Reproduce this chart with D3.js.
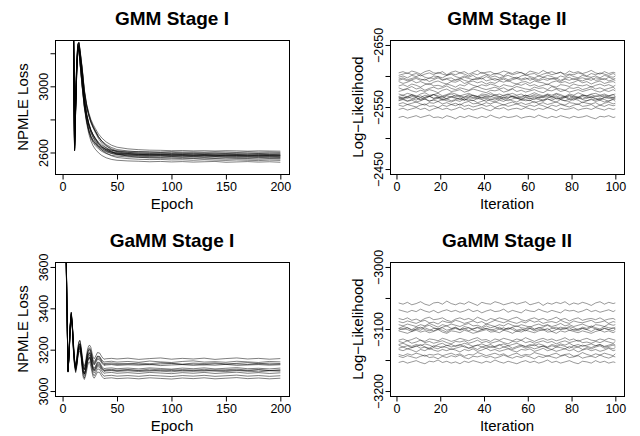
<!DOCTYPE html>
<html><head><meta charset="utf-8">
<script src="https://cdn.jsdelivr.net/npm/d3@7"></script>
<style>body{margin:0;background:#fff}svg{display:block}</style>
</head><body><svg id="c" width="640" height="436"></svg>
<script>
// ---------- data ----------
const titles = ["GMM Stage I", "GMM Stage II", "GaMM Stage I", "GaMM Stage II"];
const xLabels = ["Epoch", "Iteration", "Epoch", "Iteration"];
const yLabelsAxis = ["NPMLE Loss", "Log−Likelihood", "NPMLE Loss", "Log−Likelihood"];

const stage1XTicks = [0, 50, 100, 150, 200];
const stage2XTicks = [0, 20, 40, 60, 80, 100];
const gmm1YTicks = [2600, 2800, 3000, 3200];
const gmm1YTickLabels = ["2600", "", "3000", ""];
const gmm2YTicks = [-2650, -2600, -2550, -2500, -2450];
const gmm2YTickLabels = ["−2650", "", "−2550", "", "−2450"];
const gamm1YTicks = [3000, 3200, 3400, 3600];
const gamm1YTickLabels = ["3000", "3200", "3400", "3600"];
const gamm2YTicks = [-3000, -3050, -3100, -3150, -3200];
const gamm2YTickLabels = ["−3000", "", "−3100", "", "−3200"];

const gmm1Epochs = [1,9,10,11,12,13,14,15,16,18,20,22,24,26,28,30,33,36,40,45,50,60,70,80,90,100,110,120,130,140,150,160,170,180,190,200];
const gmm1Runs = [
[6100,4300,3350,2615,2860,3090,3215,3230,3150, 3000,2870,2780,2715,2670,2640,2620, 2598,2582,2568,2558,2553, 2549,2547,2544,2546,2543,2545,2542,2544,2546,2541,2543,2545,2542,2544,2541],
[6000,4250,3380,2625,2880,3110,3230,3245,3185, 3055,2915,2825,2765,2722,2690,2666, 2636,2615,2596,2580,2570, 2563,2559,2557,2558,2555,2556,2553,2556,2554,2552,2555,2553,2551,2554,2552],
[6200,4350,3400,2640,2910,3140,3250,3262,3212, 3100,2965,2880,2825,2782,2750,2722, 2684,2656,2628,2605,2590, 2578,2571,2567,2565,2566,2563,2564,2561,2563,2560,2562,2561,2559,2562,2560],
[5900,4200,3330,2610,2850,3080,3205,3225,3140, 2995,2875,2790,2728,2686,2660,2642, 2622,2607,2594,2583,2578, 2573,2571,2569,2570,2567,2569,2566,2568,2565,2567,2566,2564,2567,2565,2564],
[6050,4280,3360,2620,2875,3105,3228,3240,3180, 3050,2910,2822,2762,2722,2694,2672, 2645,2626,2608,2594,2586, 2580,2577,2575,2574,2576,2573,2574,2571,2573,2572,2570,2572,2569,2571,2570],
[6150,4320,3390,2630,2890,3120,3238,3250,3195, 3065,2930,2840,2780,2738,2708,2684, 2655,2634,2615,2600,2591, 2585,2581,2579,2580,2577,2578,2575,2577,2576,2574,2576,2573,2575,2574,2572],
[5950,4220,3340,2612,2855,3085,3210,3228,3145, 3005,2882,2798,2735,2694,2668,2650, 2630,2615,2603,2594,2589, 2585,2583,2581,2582,2579,2580,2578,2580,2577,2579,2578,2576,2578,2577,2575],
[6250,4380,3410,2645,2920,3150,3255,3265,3220, 3108,2975,2892,2835,2792,2760,2734, 2696,2668,2640,2618,2604, 2594,2589,2586,2585,2586,2583,2584,2582,2583,2580,2582,2581,2579,2581,2580],
[6080,4300,3370,2622,2882,3112,3232,3244,3188, 3058,2920,2832,2772,2732,2704,2680, 2652,2633,2616,2603,2595, 2590,2587,2585,2586,2583,2584,2582,2584,2581,2583,2582,2580,2583,2581,2580],
[5980,4240,3345,2614,2858,3088,3212,3230,3148, 3010,2886,2802,2740,2700,2674,2656, 2636,2622,2610,2601,2596, 2591,2589,2587,2588,2585,2587,2584,2586,2585,2583,2586,2584,2582,2585,2583],
[6120,4310,3385,2628,2886,3116,3235,3247,3192, 3062,2926,2836,2776,2736,2708,2685, 2657,2638,2620,2607,2599, 2594,2591,2589,2590,2587,2588,2586,2588,2585,2587,2586,2584,2587,2585,2584],
[6220,4360,3405,2642,2915,3145,3252,3263,3215, 3104,2970,2886,2830,2788,2756,2730, 2694,2668,2642,2622,2610, 2601,2596,2594,2592,2593,2591,2592,2589,2591,2590,2588,2590,2589,2587,2589],
[6020,4270,3365,2624,2878,3108,3230,3242,3184, 3054,2918,2830,2772,2734,2708,2688, 2662,2644,2628,2614,2606, 2600,2598,2596,2597,2594,2595,2593,2595,2592,2594,2593,2591,2594,2592,2591],
[6180,4340,3395,2638,2905,3135,3248,3258,3208, 3096,2960,2876,2822,2782,2752,2728, 2694,2670,2648,2630,2618, 2609,2604,2601,2600,2601,2598,2599,2597,2598,2596,2598,2597,2595,2597,2596],
[5920,4210,3335,2611,2852,3082,3208,3226,3142, 3002,2880,2796,2734,2696,2672,2656, 2640,2630,2620,2613,2609, 2607,2606,2605,2603,2605,2603,2604,2602,2604,2603,2601,2604,2602,2603,2601],
[6280,4400,3420,2650,2925,3155,3258,3268,3225, 3112,2980,2896,2842,2800,2770,2746, 2712,2688,2664,2644,2632, 2622,2617,2614,2613,2611,2612,2610,2611,2609,2611,2610,2608,2610,2609,2608]
];

const stage2Iters = [1,3,5,7,9,11,13,15,17,19,21,23,25,27,29,31,33,35,37,39,41,43,45,47,49,51,53,55,57,59,61,63,65,67,69,71,73,75,77,79,81,83,85,87,89,91,93,95,97,99,100];
const gmm2Runs = [
[-2605,-2607,-2604,-2608,-2606,-2603,-2607,-2609,-2605,-2604,-2607,-2602,-2606,-2608,-2605,-2607,-2603,-2606,-2609,-2604,-2606,-2607,-2603,-2605,-2608,-2606,-2604,-2607,-2605,-2603,-2608,-2606,-2604,-2609,-2605,-2607,-2604,-2606,-2603,-2608,-2605,-2607,-2604,-2606,-2609,-2605,-2603,-2607,-2604,-2606,-2605],
[-2601,-2603,-2605,-2602,-2604,-2600,-2603,-2605,-2602,-2606,-2603,-2601,-2604,-2602,-2605,-2603,-2600,-2604,-2602,-2606,-2603,-2601,-2604,-2603,-2600,-2605,-2602,-2604,-2606,-2601,-2603,-2604,-2600,-2603,-2605,-2602,-2604,-2606,-2601,-2603,-2602,-2605,-2603,-2600,-2604,-2602,-2605,-2603,-2601,-2604,-2602],
[-2598,-2600,-2597,-2601,-2599,-2602,-2598,-2596,-2600,-2599,-2597,-2601,-2603,-2599,-2597,-2600,-2598,-2601,-2596,-2599,-2602,-2598,-2600,-2597,-2599,-2601,-2598,-2596,-2600,-2602,-2599,-2597,-2600,-2598,-2601,-2599,-2596,-2600,-2598,-2602,-2599,-2597,-2601,-2599,-2598,-2600,-2597,-2601,-2599,-2598,-2600],
[-2595,-2597,-2594,-2596,-2598,-2595,-2593,-2597,-2596,-2599,-2594,-2596,-2597,-2593,-2595,-2598,-2596,-2594,-2597,-2595,-2599,-2596,-2593,-2595,-2597,-2594,-2596,-2598,-2595,-2597,-2593,-2596,-2594,-2598,-2596,-2595,-2597,-2593,-2596,-2598,-2594,-2596,-2597,-2595,-2593,-2597,-2596,-2594,-2598,-2595,-2596],
[-2593,-2595,-2592,-2594,-2596,-2593,-2595,-2591,-2594,-2597,-2593,-2595,-2592,-2594,-2596,-2593,-2591,-2595,-2594,-2597,-2592,-2594,-2596,-2593,-2595,-2591,-2594,-2596,-2593,-2595,-2597,-2594,-2592,-2595,-2593,-2596,-2594,-2591,-2595,-2593,-2596,-2594,-2592,-2595,-2597,-2593,-2594,-2596,-2592,-2594,-2593],
[-2591,-2588,-2590,-2593,-2589,-2591,-2588,-2586,-2590,-2592,-2589,-2587,-2591,-2590,-2593,-2588,-2590,-2592,-2589,-2591,-2587,-2590,-2588,-2592,-2590,-2593,-2589,-2587,-2590,-2591,-2588,-2592,-2590,-2589,-2586,-2590,-2592,-2589,-2591,-2588,-2590,-2593,-2589,-2591,-2587,-2590,-2592,-2588,-2590,-2591,-2589],
[-2584,-2586,-2583,-2587,-2585,-2582,-2586,-2588,-2584,-2585,-2583,-2587,-2585,-2582,-2586,-2584,-2588,-2585,-2583,-2586,-2584,-2587,-2585,-2582,-2586,-2584,-2583,-2587,-2585,-2588,-2584,-2586,-2583,-2585,-2587,-2584,-2582,-2586,-2585,-2583,-2587,-2585,-2584,-2586,-2582,-2585,-2587,-2584,-2586,-2583,-2585],
[-2581,-2578,-2580,-2583,-2579,-2581,-2577,-2580,-2582,-2579,-2581,-2584,-2580,-2578,-2581,-2579,-2577,-2581,-2583,-2580,-2578,-2580,-2582,-2579,-2581,-2577,-2580,-2583,-2581,-2579,-2578,-2582,-2580,-2581,-2578,-2583,-2580,-2579,-2577,-2581,-2580,-2582,-2578,-2580,-2583,-2579,-2581,-2578,-2580,-2582,-2579],
[-2575,-2577,-2579,-2576,-2574,-2577,-2575,-2578,-2576,-2573,-2577,-2579,-2575,-2576,-2578,-2574,-2576,-2579,-2577,-2575,-2573,-2577,-2576,-2578,-2574,-2576,-2579,-2575,-2577,-2574,-2576,-2578,-2575,-2573,-2577,-2576,-2579,-2575,-2577,-2574,-2576,-2578,-2575,-2577,-2579,-2576,-2574,-2577,-2575,-2578,-2576],
[-2571,-2569,-2572,-2570,-2567,-2571,-2573,-2569,-2570,-2572,-2568,-2570,-2573,-2571,-2568,-2570,-2572,-2569,-2567,-2571,-2570,-2573,-2569,-2571,-2568,-2570,-2572,-2569,-2571,-2567,-2570,-2573,-2570,-2568,-2571,-2569,-2572,-2570,-2567,-2571,-2569,-2573,-2570,-2568,-2571,-2572,-2569,-2571,-2568,-2570,-2571],
[-2567,-2569,-2566,-2570,-2568,-2565,-2569,-2567,-2570,-2568,-2566,-2569,-2571,-2567,-2568,-2566,-2570,-2568,-2565,-2569,-2567,-2570,-2568,-2566,-2569,-2571,-2567,-2568,-2565,-2569,-2567,-2570,-2568,-2566,-2569,-2567,-2571,-2568,-2566,-2569,-2567,-2565,-2569,-2568,-2570,-2567,-2569,-2566,-2568,-2570,-2567],
[-2566,-2564,-2567,-2569,-2566,-2568,-2565,-2567,-2570,-2566,-2564,-2568,-2566,-2569,-2567,-2564,-2566,-2569,-2567,-2565,-2568,-2566,-2570,-2567,-2565,-2568,-2566,-2564,-2567,-2569,-2566,-2568,-2565,-2567,-2570,-2566,-2568,-2565,-2567,-2564,-2568,-2566,-2569,-2567,-2565,-2568,-2566,-2569,-2567,-2565,-2567],
[-2563,-2566,-2564,-2567,-2565,-2562,-2566,-2568,-2564,-2565,-2567,-2563,-2566,-2564,-2562,-2566,-2568,-2565,-2563,-2566,-2564,-2567,-2565,-2562,-2566,-2564,-2568,-2565,-2563,-2566,-2564,-2562,-2566,-2565,-2567,-2564,-2566,-2563,-2565,-2568,-2564,-2566,-2563,-2565,-2567,-2564,-2562,-2566,-2565,-2563,-2565],
[-2565,-2563,-2566,-2564,-2561,-2565,-2563,-2567,-2564,-2566,-2562,-2564,-2567,-2565,-2563,-2561,-2565,-2564,-2567,-2563,-2565,-2562,-2564,-2566,-2563,-2565,-2567,-2564,-2562,-2565,-2563,-2566,-2564,-2561,-2565,-2567,-2563,-2564,-2566,-2562,-2565,-2563,-2567,-2564,-2566,-2563,-2561,-2565,-2564,-2566,-2564],
[-2561,-2563,-2560,-2562,-2565,-2561,-2563,-2559,-2562,-2564,-2561,-2563,-2560,-2562,-2565,-2561,-2563,-2560,-2564,-2562,-2559,-2563,-2561,-2564,-2562,-2560,-2563,-2565,-2561,-2562,-2560,-2564,-2562,-2559,-2563,-2561,-2564,-2562,-2560,-2563,-2561,-2565,-2562,-2560,-2563,-2561,-2564,-2562,-2559,-2563,-2562],
[-2560,-2562,-2559,-2561,-2558,-2560,-2563,-2560,-2561,-2559,-2562,-2560,-2558,-2561,-2559,-2563,-2560,-2561,-2557,-2559,-2562,-2560,-2558,-2561,-2559,-2563,-2560,-2558,-2562,-2560,-2561,-2557,-2559,-2561,-2563,-2560,-2558,-2562,-2560,-2559,-2563,-2561,-2557,-2560,-2562,-2559,-2561,-2558,-2560,-2562,-2559],
[-2555,-2557,-2554,-2556,-2558,-2555,-2553,-2557,-2556,-2559,-2555,-2557,-2554,-2556,-2553,-2557,-2559,-2555,-2556,-2554,-2557,-2555,-2558,-2556,-2553,-2556,-2558,-2555,-2557,-2554,-2556,-2559,-2555,-2557,-2554,-2556,-2558,-2555,-2553,-2557,-2556,-2554,-2558,-2556,-2555,-2557,-2553,-2556,-2558,-2555,-2556],
[-2553,-2551,-2554,-2552,-2550,-2553,-2555,-2551,-2552,-2549,-2553,-2551,-2554,-2552,-2555,-2551,-2553,-2550,-2552,-2554,-2551,-2553,-2549,-2552,-2554,-2551,-2553,-2555,-2552,-2550,-2553,-2551,-2554,-2552,-2549,-2553,-2551,-2554,-2552,-2550,-2553,-2555,-2551,-2552,-2554,-2550,-2553,-2551,-2554,-2552,-2553],
[-2546,-2548,-2545,-2547,-2549,-2546,-2548,-2544,-2547,-2549,-2546,-2548,-2545,-2547,-2550,-2546,-2548,-2545,-2547,-2549,-2546,-2544,-2548,-2547,-2549,-2545,-2547,-2548,-2546,-2549,-2547,-2545,-2548,-2546,-2549,-2547,-2544,-2548,-2546,-2547,-2549,-2545,-2547,-2548,-2546,-2549,-2547,-2545,-2548,-2546,-2547],
[-2533,-2535,-2532,-2534,-2536,-2533,-2535,-2537,-2533,-2534,-2532,-2536,-2534,-2531,-2535,-2533,-2536,-2534,-2532,-2535,-2533,-2537,-2534,-2532,-2535,-2533,-2534,-2536,-2532,-2534,-2535,-2533,-2537,-2534,-2532,-2535,-2533,-2536,-2534,-2532,-2535,-2533,-2534,-2536,-2533,-2531,-2535,-2534,-2536,-2533,-2534]
];

const gamm1Epochs = [1,2,3,4,5,6,7,8,9,10,11,12,13,14,15,16,17,18,19,20,21,22,23,24,25,26,27,28,29,30,32,34,36,38,40,45,50,60,70,80,90,100,110,120,130,140,150,160,170,180,190,200];
const gamm1Runs = [
[8900,4800,3760,3420,3098,3185,3315,3375,3316, 3228,3156,3126,3153,3210,3240,3245,3215,3172,3132,3122,3137,3174,3204,3219,3221,3211,3186,3164,3156,3164, 3186,3184,3166,3154,3156, 3158,3155, 3159,3153,3157,3160,3154,3158,3155,3159,3153,3157,3160,3155,3158,3154,3157],
[8700,4720,3730,3410,3092,3175,3300,3362,3305, 3213,3148,3121,3145,3196,3223,3227,3200,3159,3123,3114,3128,3159,3187,3200,3202,3192,3169,3149,3142,3149, 3169,3167,3151,3140,3142, 3144,3140, 3143,3139,3145,3141,3138,3143,3146,3140,3142,3139,3144,3141,3138,3143,3141],
[9100,4850,3770,3425,3100,3190,3322,3382,3320, 3230,3151,3118,3148,3206,3239,3244,3211,3160,3116,3105,3121,3158,3191,3207,3209,3195,3167,3143,3134,3143, 3167,3165,3145,3132,3134, 3136,3133, 3131,3135,3132,3137,3134,3130,3135,3133,3136,3131,3134,3137,3132,3135,3133],
[8850,4780,3750,3418,3096,3182,3312,3372,3312, 3218,3146,3116,3143,3196,3226,3231,3201,3154,3114,3104,3119,3152,3182,3197,3199,3185,3160,3138,3130,3138, 3160,3158,3140,3128,3130, 3131,3128, 3132,3129,3127,3131,3133,3128,3130,3127,3132,3129,3131,3128,3132,3129,3130],
[8750,4740,3735,3412,3094,3178,3305,3365,3308, 3206,3141,3114,3138,3187,3214,3218,3191,3148,3112,3103,3117,3146,3174,3187,3189,3176,3153,3133,3126,3133, 3153,3151,3135,3124,3126, 3128,3124, 3127,3125,3129,3123,3126,3128,3124,3127,3125,3129,3124,3126,3128,3125,3127],
[8950,4820,3755,3420,3097,3183,3313,3373,3313, 3210,3138,3108,3135,3185,3215,3220,3190,3140,3100,3090,3105,3135,3165,3180,3182,3165,3140,3118,3110,3118, 3140,3138,3120,3108,3110, 3112,3108, 3111,3107,3112,3109,3106,3111,3108,3112,3107,3110,3113,3108,3110,3107,3111],
[9050,4860,3765,3423,3099,3188,3320,3380,3318, 3217,3138,3105,3135,3189,3222,3227,3194,3138,3094,3083,3099,3132,3165,3181,3183,3164,3136,3112,3103,3112, 3136,3134,3114,3101,3103, 3105,3101, 3104,3100,3106,3102,3099,3104,3101,3105,3100,3103,3106,3101,3104,3099,3103],
[8800,4770,3745,3416,3095,3181,3311,3371,3311, 3206,3134,3104,3131,3179,3209,3214,3184,3133,3093,3083,3098,3126,3156,3171,3173,3155,3130,3108,3100,3108, 3130,3128,3110,3098,3100, 3101,3098, 3102,3099,3097,3101,3103,3098,3100,3097,3102,3099,3101,3098,3102,3099,3100],
[8650,4700,3725,3408,3091,3174,3298,3358,3302, 3195,3130,3103,3127,3171,3198,3202,3175,3128,3092,3083,3097,3121,3149,3162,3164,3147,3124,3104,3097,3104, 3124,3122,3106,3095,3097, 3099,3095, 3098,3094,3099,3096,3093,3098,3095,3099,3096,3094,3099,3096,3093,3098,3096],
[8900,4790,3750,3417,3096,3180,3309,3368,3309, 3201,3129,3099,3126,3173,3203,3208,3178,3125,3085,3075,3090,3116,3146,3161,3163,3143,3118,3096,3088,3096, 3118,3116,3098,3086,3088, 3090,3086, 3089,3085,3090,3087,3084,3089,3086,3090,3085,3088,3091,3086,3089,3085,3088],
[9200,4880,3770,3426,3100,3187,3318,3378,3317, 3206,3127,3094,3124,3173,3206,3211,3178,3118,3074,3063,3079,3107,3140,3156,3158,3135,3107,3083,3074,3083, 3107,3105,3085,3072,3074, 3076,3072, 3075,3071,3076,3073,3070,3075,3072,3076,3071,3074,3077,3072,3075,3071,3074],
[8700,4730,3735,3410,3093,3176,3304,3364,3304, 3191,3119,3089,3116,3159,3189,3194,3164,3106,3066,3056,3071,3094,3124,3139,3141,3117,3092,3070,3062,3070, 3092,3090,3072,3060,3062, 3064,3060, 3063,3059,3064,3061,3058,3063,3060,3064,3059,3062,3065,3060,3063,3059,3062]
];

const gamm2Runs = [
[-3058,-3060,-3057,-3061,-3059,-3056,-3060,-3062,-3058,-3057,-3060,-3055,-3059,-3061,-3058,-3060,-3056,-3059,-3062,-3057,-3059,-3060,-3056,-3058,-3061,-3059,-3057,-3060,-3058,-3056,-3061,-3059,-3057,-3062,-3058,-3060,-3057,-3059,-3056,-3061,-3058,-3060,-3057,-3059,-3062,-3058,-3056,-3060,-3057,-3059,-3058],
[-3069,-3071,-3073,-3070,-3072,-3068,-3071,-3073,-3070,-3074,-3071,-3069,-3072,-3070,-3073,-3071,-3068,-3072,-3070,-3074,-3071,-3069,-3072,-3071,-3068,-3073,-3070,-3072,-3074,-3069,-3071,-3072,-3068,-3071,-3073,-3070,-3072,-3074,-3069,-3071,-3070,-3073,-3071,-3068,-3072,-3070,-3073,-3071,-3069,-3072,-3070],
[-3083,-3085,-3082,-3086,-3084,-3087,-3083,-3081,-3085,-3084,-3082,-3086,-3088,-3084,-3082,-3085,-3083,-3086,-3081,-3084,-3087,-3083,-3085,-3082,-3084,-3086,-3083,-3081,-3085,-3087,-3084,-3082,-3085,-3083,-3086,-3084,-3081,-3085,-3083,-3087,-3084,-3082,-3086,-3084,-3083,-3085,-3082,-3086,-3084,-3083,-3085],
[-3088,-3090,-3087,-3089,-3091,-3088,-3086,-3090,-3089,-3092,-3087,-3089,-3090,-3086,-3088,-3091,-3089,-3087,-3090,-3088,-3092,-3089,-3086,-3088,-3090,-3087,-3089,-3091,-3088,-3090,-3086,-3089,-3087,-3091,-3089,-3088,-3090,-3086,-3089,-3091,-3087,-3089,-3090,-3088,-3086,-3090,-3089,-3087,-3091,-3088,-3089],
[-3093,-3095,-3092,-3094,-3096,-3093,-3095,-3091,-3094,-3097,-3093,-3095,-3092,-3094,-3096,-3093,-3091,-3095,-3094,-3097,-3092,-3094,-3096,-3093,-3095,-3091,-3094,-3096,-3093,-3095,-3097,-3094,-3092,-3095,-3093,-3096,-3094,-3091,-3095,-3093,-3096,-3094,-3092,-3095,-3097,-3093,-3094,-3096,-3092,-3094,-3093],
[-3099,-3096,-3098,-3101,-3097,-3099,-3096,-3094,-3098,-3100,-3097,-3095,-3099,-3098,-3101,-3096,-3098,-3100,-3097,-3099,-3095,-3098,-3096,-3100,-3098,-3101,-3097,-3095,-3098,-3099,-3096,-3100,-3098,-3097,-3094,-3098,-3100,-3097,-3099,-3096,-3098,-3101,-3097,-3099,-3095,-3098,-3100,-3096,-3098,-3099,-3097],
[-3099,-3101,-3098,-3102,-3100,-3097,-3101,-3103,-3099,-3100,-3098,-3102,-3100,-3097,-3101,-3099,-3103,-3100,-3098,-3101,-3099,-3102,-3100,-3097,-3101,-3099,-3098,-3102,-3100,-3103,-3099,-3101,-3098,-3100,-3102,-3099,-3097,-3101,-3100,-3098,-3102,-3100,-3099,-3101,-3097,-3100,-3102,-3099,-3101,-3098,-3100],
[-3102,-3099,-3101,-3104,-3100,-3102,-3098,-3101,-3103,-3100,-3102,-3105,-3101,-3099,-3102,-3100,-3098,-3102,-3104,-3101,-3099,-3101,-3103,-3100,-3102,-3098,-3101,-3104,-3102,-3100,-3099,-3103,-3101,-3102,-3099,-3104,-3101,-3100,-3098,-3102,-3101,-3103,-3099,-3101,-3104,-3100,-3102,-3099,-3101,-3103,-3100],
[-3103,-3105,-3107,-3104,-3102,-3105,-3103,-3106,-3104,-3101,-3105,-3107,-3103,-3104,-3106,-3102,-3104,-3107,-3105,-3103,-3101,-3105,-3104,-3106,-3102,-3104,-3107,-3103,-3105,-3102,-3104,-3106,-3103,-3101,-3105,-3104,-3107,-3103,-3105,-3102,-3104,-3106,-3103,-3105,-3107,-3104,-3102,-3105,-3103,-3106,-3104],
[-3118,-3116,-3119,-3117,-3114,-3118,-3120,-3116,-3117,-3119,-3115,-3117,-3120,-3118,-3115,-3117,-3119,-3116,-3114,-3118,-3117,-3120,-3116,-3118,-3115,-3117,-3119,-3116,-3118,-3114,-3117,-3120,-3117,-3115,-3118,-3116,-3119,-3117,-3114,-3118,-3116,-3120,-3117,-3115,-3118,-3119,-3116,-3118,-3115,-3117,-3118],
[-3120,-3122,-3119,-3123,-3121,-3118,-3122,-3120,-3123,-3121,-3119,-3122,-3124,-3120,-3121,-3119,-3123,-3121,-3118,-3122,-3120,-3123,-3121,-3119,-3122,-3124,-3120,-3121,-3118,-3122,-3120,-3123,-3121,-3119,-3122,-3120,-3124,-3121,-3119,-3122,-3120,-3118,-3122,-3121,-3123,-3120,-3122,-3119,-3121,-3123,-3120],
[-3125,-3123,-3126,-3128,-3125,-3127,-3124,-3126,-3129,-3125,-3123,-3127,-3125,-3128,-3126,-3123,-3125,-3128,-3126,-3124,-3127,-3125,-3129,-3126,-3124,-3127,-3125,-3123,-3126,-3128,-3125,-3127,-3124,-3126,-3129,-3125,-3127,-3124,-3126,-3123,-3127,-3125,-3128,-3126,-3124,-3127,-3125,-3128,-3126,-3124,-3126],
[-3126,-3129,-3127,-3130,-3128,-3125,-3129,-3131,-3127,-3128,-3130,-3126,-3129,-3127,-3125,-3129,-3131,-3128,-3126,-3129,-3127,-3130,-3128,-3125,-3129,-3127,-3131,-3128,-3126,-3129,-3127,-3125,-3129,-3128,-3130,-3127,-3129,-3126,-3128,-3131,-3127,-3129,-3126,-3128,-3130,-3127,-3125,-3129,-3128,-3126,-3128],
[-3131,-3129,-3132,-3130,-3127,-3131,-3129,-3133,-3130,-3132,-3128,-3130,-3133,-3131,-3129,-3127,-3131,-3130,-3133,-3129,-3131,-3128,-3130,-3132,-3129,-3131,-3133,-3130,-3128,-3131,-3129,-3132,-3130,-3127,-3131,-3133,-3129,-3130,-3132,-3128,-3131,-3129,-3133,-3130,-3132,-3129,-3127,-3131,-3130,-3132,-3130],
[-3133,-3135,-3132,-3134,-3137,-3133,-3135,-3131,-3134,-3136,-3133,-3135,-3132,-3134,-3137,-3133,-3135,-3132,-3136,-3134,-3131,-3135,-3133,-3136,-3134,-3132,-3135,-3137,-3133,-3134,-3132,-3136,-3134,-3131,-3135,-3133,-3136,-3134,-3132,-3135,-3133,-3137,-3134,-3132,-3135,-3133,-3136,-3134,-3131,-3135,-3134],
[-3141,-3143,-3140,-3142,-3139,-3141,-3144,-3141,-3142,-3140,-3143,-3141,-3139,-3142,-3140,-3144,-3141,-3142,-3138,-3140,-3143,-3141,-3139,-3142,-3140,-3144,-3141,-3139,-3143,-3141,-3142,-3138,-3140,-3142,-3144,-3141,-3139,-3143,-3141,-3140,-3144,-3142,-3138,-3141,-3143,-3140,-3142,-3139,-3141,-3143,-3140],
[-3144,-3146,-3143,-3145,-3147,-3144,-3142,-3146,-3145,-3148,-3144,-3146,-3143,-3145,-3142,-3146,-3148,-3144,-3145,-3143,-3146,-3144,-3147,-3145,-3142,-3145,-3147,-3144,-3146,-3143,-3145,-3148,-3144,-3146,-3143,-3145,-3147,-3144,-3142,-3146,-3145,-3143,-3147,-3145,-3144,-3146,-3142,-3145,-3147,-3144,-3145],
[-3154,-3152,-3155,-3153,-3151,-3154,-3156,-3152,-3153,-3150,-3154,-3152,-3155,-3153,-3156,-3152,-3154,-3151,-3153,-3155,-3152,-3154,-3150,-3153,-3155,-3152,-3154,-3156,-3153,-3151,-3154,-3152,-3155,-3153,-3150,-3154,-3152,-3155,-3153,-3151,-3154,-3156,-3152,-3153,-3155,-3151,-3154,-3152,-3155,-3153,-3154]
];

// ---------- drawing ----------
const FONT = '"Liberation Sans", Arial, Helvetica, sans-serif';
const panels = [
  {x: gmm1Epochs, runs: gmm1Runs, xDom: [-6.96, 207.96], yDom: [2470, 3280], xTicks: stage1XTicks, yTicks: gmm1YTicks, yTickLabels: gmm1YTickLabels, box: {l: 55, r: 289, t: 40, b: 174}, alpha: 0.5},
  {x: stage2Iters, runs: gmm2Runs, xDom: [-2.96, 103.96], yDom: [-2442, -2658], xTicks: stage2XTicks, yTicks: gmm2YTicks, yTickLabels: gmm2YTickLabels, box: {l: 390, r: 624, t: 40, b: 174}, alpha: 0.4},
  {x: gamm1Epochs, runs: gamm1Runs, xDom: [-6.96, 207.96], yDom: [2976, 3624], xTicks: stage1XTicks, yTicks: gamm1YTicks, yTickLabels: gamm1YTickLabels, box: {l: 55, r: 289, t: 262, b: 396}, alpha: 0.5},
  {x: stage2Iters, runs: gamm2Runs, xDom: [-2.96, 103.96], yDom: [-3208, -2992], xTicks: stage2XTicks, yTicks: gamm2YTicks, yTickLabels: gamm2YTickLabels, box: {l: 390, r: 624, t: 262, b: 396}, alpha: 0.4}
];

const svg = d3.select("#c");
svg.append("rect").attr("width", 640).attr("height", 436).attr("fill", "#fff");

panels.forEach((p, pi) => {
  const b = p.box;
  const x = d3.scaleLinear().domain(p.xDom).range([b.l, b.r]);
  const y = d3.scaleLinear().domain(p.yDom).range([b.b, b.t]);
  const clipId = "clip" + pi;
  svg.append("clipPath").attr("id", clipId).append("rect")
    .attr("x", b.l).attr("y", b.t).attr("width", b.r - b.l).attr("height", b.b - b.t);

  const line = d3.line()
    .defined((d, i) => p.x[i] !== undefined && d !== undefined)
    .x((d, i) => x(p.x[i]))
    .y(d => y(d));

  svg.append("g").attr("clip-path", `url(#${clipId})`)
    .selectAll("path").data(p.runs).join("path")
    .attr("d", line)
    .attr("fill", "none")
    .attr("stroke", "#000")
    .attr("stroke-opacity", p.alpha)
    .attr("stroke-width", 1);

  // box
  svg.append("rect").attr("x", b.l + 0.5).attr("y", b.t + 0.5)
    .attr("width", b.r - b.l).attr("height", b.b - b.t)
    .attr("fill", "none").attr("stroke", "#000").attr("stroke-width", 1);

  // x axis
  const xa = svg.append("g").attr("transform", `translate(0,${b.b + 0.5})`)
    .call(d3.axisBottom(x).tickValues(p.xTicks).tickSize(5).tickPadding(3).tickFormat(d3.format("d")));
  xa.select(".domain").remove();
  xa.attr("font-family", FONT).attr("font-size", 12.5);
  xa.selectAll("text").attr("fill", "#000");

  // y axis
  const ya = svg.append("g").attr("transform", `translate(${b.l + 0.5},0)`)
    .call(d3.axisLeft(y).tickValues(p.yTicks).tickSize(5).tickFormat((d, i) => p.yTickLabels[i]));
  ya.select(".domain").remove();
  ya.attr("font-family", FONT).attr("font-size", 12.5);
  ya.selectAll("text")
    .attr("fill", "#000")
    .attr("dy", null)
    .attr("x", 0).attr("y", -8)
    .attr("transform", "rotate(-90)")
    .attr("text-anchor", "middle");

  // title
  svg.append("text").attr("x", (b.l + b.r) / 2).attr("y", b.t - 15)
    .attr("text-anchor", "middle").attr("font-family", FONT)
    .attr("font-size", 19).attr("font-weight", "bold").text(titles[pi]);

  // x label
  svg.append("text").attr("x", (b.l + b.r) / 2).attr("y", b.b + 35)
    .attr("text-anchor", "middle").attr("font-family", FONT)
    .attr("font-size", 15).text(xLabels[pi]);

  // y label
  svg.append("text")
    .attr("transform", `translate(${b.l - 27},${(b.t + b.b) / 2}) rotate(-90)`)
    .attr("text-anchor", "middle").attr("font-family", FONT)
    .attr("font-size", 15).text(yLabelsAxis[pi]);
});
</script>
</body></html>
